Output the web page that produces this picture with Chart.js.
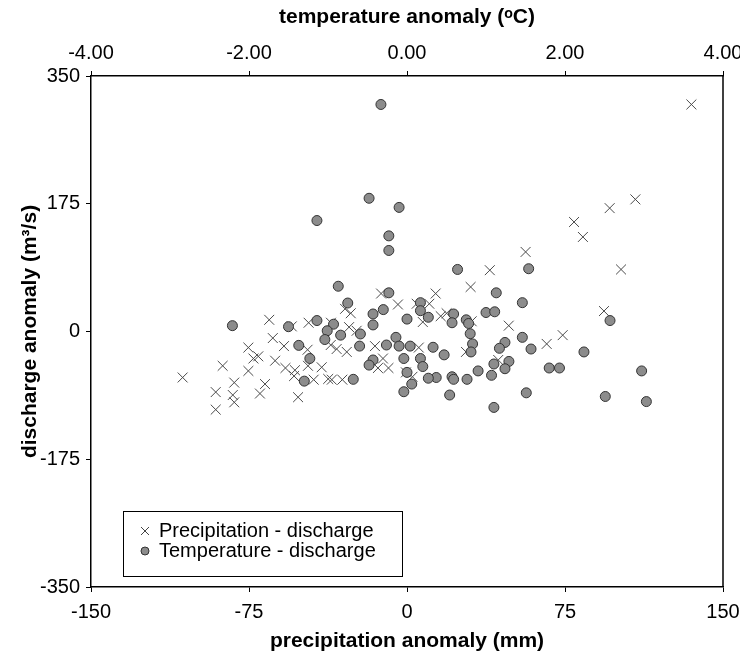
<!DOCTYPE html>
<html>
<head>
<meta charset="utf-8">
<script src="https://cdn.jsdelivr.net/npm/chart.js@4.4.0/dist/chart.umd.min.js"></script>
<style>
  html, body { margin: 0; padding: 0; background: #fff; }
  #wrap { width: 740px; height: 656px; position: relative; }
</style>
</head>
<body>
<div id="wrap"><canvas id="myChart"></canvas></div>
<script>
// precipitation anomaly (mm) vs discharge anomaly (m3/s)
const precipX = [135, 108.4, 96.2, 79.3, 83.5, 56.3, 39.3, 101.6, 30.2, -12.3,
    13.6, -4.3, 4.6, 10.6, -29.4, -26.7, 93.5, 18.8, 16, -65.4,
    -46.7, 7.5, 30.7, -36.1, -54.7, -27.5, 48.3, -23.9, -63.7, 73.9,
    -58.4, -75.3, -47.2, -36.2, -33.4, -28.6, -15.2, 5.6, 66.3, 28,
    -70.6, -72.9, -62.6, -87.5, -11.4, 43.3, -57.7, -53.2, -47, -40.5,
    -13.8, -8.8, -75.3, -53.6, -0.5, 2.6, -106.5, -44.3, -37.4, -35.7,
    -30.7, -82, -67.4, -69.8, -90.8, -82.7, -51.7, -82, -90.8];
const precipY = [311, 181, 169, 150, 129.5, 109, 84, 85, 61, 52,
    52, 37, 38, 38, 31, 25, 28, 25, 21, 16,
    12, 13, 14, 12, 7, 6, 8, 1, -9, -5,
    -20, -22, -25, -18.5, -24, -28, -20, -22, -17, -28,
    -34, -37, -40, -47, -37, -39, -50, -53, -47, -49,
    -50, -50, -54, -61, -56, -62, -63, -66, -65, -66,
    -66, -70, -72, -85, -83, -87, -90, -97, -107];

// temperature anomaly (C) vs discharge anomaly (m3/s)
const tempX = [-0.33, -0.48, -0.10, -1.14, -0.23, -0.23, 0.64, 1.54, -0.87, -0.23,
    1.13, -0.75, 0.17, 1.46, -0.30, 0.17, 1.00, 1.11, -0.43, 0.59,
    0.27, 0.00, -1.14, 0.75, 2.57, 0.57, 0.78, -0.93, -2.21, -1.50,
    -0.43, -1.01, -0.59, 0.80, -0.84, -0.14, 1.46, -1.04, 1.24, 0.83,
    -0.26, -1.37, -0.60, -0.10, 0.04, 0.33, 1.17, 1.57, 0.81, 2.24,
    0.47, -1.23, -0.04, 0.17, -0.43, 1.29, 1.10, -0.48, 0.20, 1.24,
    1.80, 1.93, 0.90, 2.97, 0.00, 1.07, 0.57, 0.37, 0.27, 0.59,
    0.76, -0.68, -1.30, 0.06, -0.04, 1.51, 0.54, 2.51, 3.03, 1.10];
const tempY = [311, 182.5, 170, 152, 131, 111, 85, 86, 62, 53,
    53, 39, 39.5, 39.5, 30, 28.5, 26, 27, 24, 24,
    19.5, 17, 15, 16, 15, 12, 11, 10, 8, 6.6,
    9, 1, -3.4, -3, -5, -8, -8, -11, -15, -17,
    -18.5, -19, -20, -20, -20, -21.6, -23, -24, -28, -28,
    -32, -37, -37, -37, -39, -41, -44.5, -46, -48, -51,
    -50, -50, -54, -54, -56, -60, -62, -63, -64, -65.5,
    -65.5, -65.5, -68, -72, -82.5, -84, -87, -89, -96, -104];

const precipTicks = [-150, -75, 0, 75, 150];
const tempTicks = [-4, -2, 0, 2, 4];
const dischargeTicks = [-350, -175, 0, 175, 350];
const seriesNames = ['Precipitation - discharge', 'Temperature - discharge'];

const FONT = 'Liberation Sans, Arial, sans-serif';

function pairs(xs, ys) {
    return xs.map((v, i) => ({ x: v, y: ys[i] }));
}

function fixSize(prop, size) {
    return s => {
        s[prop] = size;
        s.paddingLeft = 0; s.paddingRight = 0;
        s.paddingTop = 0; s.paddingBottom = 0;
    };
}

// draws the right border and the boxed legend inside the plot
const boxPlugin = {
    id: 'boxPlugin',
    afterDraw(chart) {
        const ctx = chart.ctx;
        const a = chart.chartArea;
        ctx.save();
        ctx.strokeStyle = '#000';
        ctx.lineWidth = 1.5;
        ctx.beginPath();
        ctx.moveTo(a.right, a.top);
        ctx.lineTo(a.right, a.bottom);
        ctx.stroke();

        // legend box
        const lx = a.left + 32, ly = a.bottom - 76, lw = 279, lh = 65;
        ctx.fillStyle = '#fff';
        ctx.fillRect(lx, ly, lw, lh);
        ctx.lineWidth = 1;
        ctx.strokeRect(lx + 0.5, ly + 0.5, lw, lh);

        const mx = lx + 22;
        const y1 = ly + 20, y2 = ly + 40;
        ctx.strokeStyle = '#444';
        ctx.beginPath();
        ctx.moveTo(mx - 4, y1 - 4); ctx.lineTo(mx + 4, y1 + 4);
        ctx.moveTo(mx + 4, y1 - 4); ctx.lineTo(mx - 4, y1 + 4);
        ctx.stroke();
        ctx.beginPath();
        ctx.arc(mx, y2, 4, 0, Math.PI * 2);
        ctx.fillStyle = '#8c8c8c';
        ctx.fill();
        ctx.strokeStyle = '#333';
        ctx.stroke();

        ctx.fillStyle = '#000';
        ctx.font = '20px ' + FONT;
        ctx.textBaseline = 'middle';
        ctx.textAlign = 'left';
        ctx.fillText(seriesNames[0], mx + 14, y1);
        ctx.fillText(seriesNames[1], mx + 14, y2);
        ctx.restore();
    }
};

const ctx = document.getElementById('myChart').getContext('2d');
const myChart = new Chart(ctx, {
    type: 'scatter',
    plugins: [boxPlugin],
    data: {
        datasets: [{
            label: seriesNames[0],
            data: pairs(precipX, precipY),
            xAxisID: 'x',
            yAxisID: 'y',
            pointStyle: 'crossRot',
            pointRadius: 7,
            borderColor: '#4a4a4a',
            borderWidth: 1,
            order: 1
        },
        {
            label: seriesNames[1],
            data: pairs(tempX, tempY),
            xAxisID: 'x2',
            yAxisID: 'y',
            pointStyle: 'circle',
            pointRadius: 5,
            backgroundColor: '#8c8c8c',
            borderColor: '#333',
            borderWidth: 1,
            order: 0
        }]
    },
    options: {
        responsive: true,
        maintainAspectRatio: false,
        animation: false,
        layout: { padding: { left: 0, right: 17, top: 0, bottom: 0 } },
        plugins: {
            legend: { display: false },
            tooltip: { enabled: false }
        },
        scales: {
            x: {
                type: 'linear',
                position: 'bottom',
                min: -150, max: 150,
                afterBuildTicks: s => { s.ticks = precipTicks.map(v => ({ value: v })); },
                afterFit: fixSize('height', 69),
                ticks: { color: '#000', font: { family: FONT, size: 20 }, padding: 8, maxRotation: 0 },
                grid: { drawOnChartArea: false, color: '#000', tickLength: 5 },
                border: { color: '#000', width: 1.5 },
                title: {
                    display: true, text: 'precipitation anomaly (mm)', color: '#000',
                    font: { family: FONT, size: 21, weight: 'bold' }, padding: { bottom: 2 }
                }
            },
            x2: {
                type: 'linear',
                position: 'top',
                min: -4, max: 4,
                afterBuildTicks: s => { s.ticks = tempTicks.map(v => ({ value: v })); },
                afterFit: fixSize('height', 76),
                ticks: { color: '#000', font: { family: FONT, size: 20 }, padding: 6, maxRotation: 0,
                    callback: v => v.toFixed(2) },
                grid: { drawOnChartArea: false, color: '#000', tickLength: 5 },
                border: { color: '#000', width: 1.5 },
                title: {
                    display: true, text: 'temperature anomaly (ᵒC)', color: '#000',
                    font: { family: FONT, size: 21, weight: 'bold' }, padding: { top: 5 }
                }
            },
            y: {
                type: 'linear',
                position: 'left',
                min: -350, max: 350,
                afterBuildTicks: s => { s.ticks = dischargeTicks.map(v => ({ value: v })); },
                afterFit: fixSize('width', 91),
                ticks: { color: '#000', font: { family: FONT, size: 20 }, padding: 6 },
                grid: { drawOnChartArea: false, color: '#000', tickLength: 5 },
                border: { color: '#000', width: 1.5 },
                title: {
                    display: true, text: 'discharge anomaly (m³/s)', color: '#000',
                    font: { family: FONT, size: 21, weight: 'bold' }, padding: { top: 18 }
                }
            }
        }
    }
});
</script>
</body>
</html>
